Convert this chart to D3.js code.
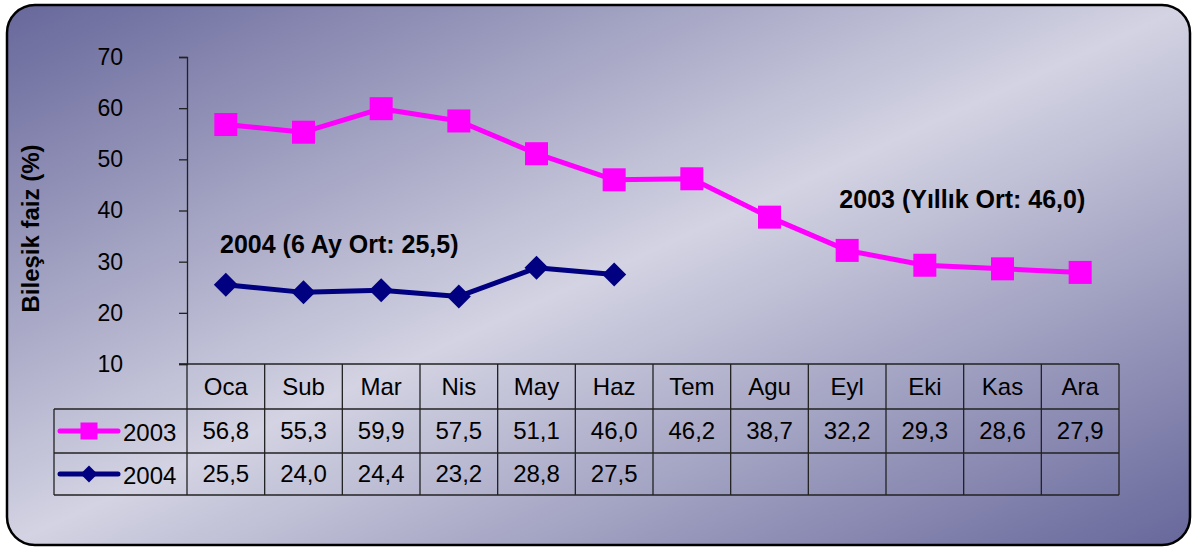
<!DOCTYPE html>
<html>
<head>
<meta charset="utf-8">
<script src="https://cdn.jsdelivr.net/npm/d3@7"></script>
<style>
  body { margin: 0; background: #fff; }
  text { font-family: "Liberation Sans", Arial, sans-serif; }
</style>
</head>
<body>
<svg id="canvas"></svg>
<script>
const months = ["Oca", "Sub", "Mar", "Nis", "May", "Haz", "Tem", "Agu", "Eyl", "Eki", "Kas", "Ara"];
const values2003 = [56.8, 55.3, 59.9, 57.5, 51.1, 46.0, 46.2, 38.7, 32.2, 29.3, 28.6, 27.9];
const values2004 = [25.5, 24.0, 24.4, 23.2, 28.8, 27.5];
const yTicks = [10, 20, 30, 40, 50, 60, 70];
const seriesNames = ["2003", "2004"];
const yLabel = "Bileşik faiz (%)";
const note2003 = "2003 (Yıllık Ort: 46,0)";
const note2004 = "2004 (6 Ay Ort: 25,5)";

const trFormat = d3.formatLocale({
  decimal: ",",
  thousands: ".",
  grouping: [3],
  currency: ["", ""],
}).format(".1f");

function getChartConfig() {
  let canvasWidth = 1192,
    canvasHeight = 548;
  let plot = { left: 187, right: 1119, top: 57, bottom: 364 };
  let rowH = [45, 44, 42]; // header, 2003, 2004
  let legendLeft = 54;

  let svg = d3.select("#canvas");
  svg.attr("width", canvasWidth);
  svg.attr("height", canvasHeight);

  return { canvasWidth, canvasHeight, plot, rowH, legendLeft, svg };
}

function getChartScales(config) {
  let { plot } = config;
  let xScale = d3.scaleBand().domain(months).range([plot.left, plot.right]);
  let yScale = d3.scaleLinear().domain([10, 70]).range([plot.bottom, plot.top]);
  let cScale = d3.scaleOrdinal().domain(seriesNames).range(["#ff00ff", "#000080"]);
  return { xScale, yScale, cScale };
}

function drawBackground(config) {
  let { svg, canvasWidth, canvasHeight } = config;
  let grad = svg
    .append("defs")
    .append("linearGradient")
    .attr("id", "bg")
    .attr("x1", 0)
    .attr("y1", 0)
    .attr("x2", 1)
    .attr("y2", 1);
  grad.append("stop").attr("offset", "0%").attr("stop-color", "#67679b");
  grad.append("stop").attr("offset", "50%").attr("stop-color", "#d3d3e3");
  grad.append("stop").attr("offset", "100%").attr("stop-color", "#67679b");

  svg
    .append("rect")
    .attr("x", 7)
    .attr("y", 5)
    .attr("width", canvasWidth - 9)
    .attr("height", canvasHeight - 8)
    .attr("rx", 28)
    .attr("fill", "url(#bg)")
    .attr("stroke", "#000")
    .attr("stroke-width", 2.5);
}

function drawAxes(scales, config) {
  let { yScale } = scales;
  let { svg, plot } = config;

  let axisY = d3.axisLeft(yScale).tickValues(yTicks).tickSize(8).tickPadding(56).tickFormat(d3.format("d"));

  let g = svg.append("g").attr("transform", `translate(${plot.left},0)`).call(axisY);
  g.select(".domain").attr("stroke", "#222").attr("stroke-width", 1.3);
  g.selectAll(".tick line").attr("stroke", "#222").attr("stroke-width", 1.3);
  g.selectAll(".tick text")
    .attr("fill", "#000")
    .style("font-size", "23px")
    .style("font-family", '"Liberation Sans", Arial, sans-serif');

  svg
    .append("text")
    .style("text-anchor", "middle")
    .style("font-size", "24px")
    .style("font-weight", "bold")
    .attr("transform", `translate(39,${(yScale(10) + yScale(70)) / 2 + 18}) rotate(-90)`)
    .text(yLabel);
}

function drawMarker(sel, name, size) {
  if (name === "2003") {
    sel
      .append("rect")
      .attr("x", -size / 2)
      .attr("y", -size / 2)
      .attr("width", size)
      .attr("height", size);
  } else {
    let h = size / 2;
    sel.append("path").attr("d", `M0,${-h}L${h},0L0,${h}L${-h},0Z`);
  }
}

function drawChart(scales, config) {
  let { svg } = config;
  let { xScale, yScale, cScale } = scales;
  let cx = (m) => xScale(m) + xScale.bandwidth() / 2;

  let series = [
    { name: "2003", values: values2003.map((v, i) => ({ m: months[i], v })) },
    { name: "2004", values: values2004.map((v, i) => ({ m: months[i], v })) },
  ];

  const lineGen = d3
    .line()
    .x((d) => cx(d.m))
    .y((d) => yScale(d.v));

  series.forEach((s) => {
    svg
      .append("path")
      .datum(s.values)
      .attr("fill", "none")
      .attr("stroke", cScale(s.name))
      .attr("stroke-width", 5)
      .attr("stroke-linejoin", "round")
      .attr("d", lineGen);

    svg
      .selectAll(null)
      .data(s.values)
      .enter()
      .append("g")
      .attr("transform", (d) => `translate(${cx(d.m)},${yScale(d.v)})`)
      .attr("fill", cScale(s.name))
      .each(function () {
        drawMarker(d3.select(this), s.name, s.name === "2003" ? 23 : 24);
      });
  });

  svg
    .append("text")
    .attr("x", xScale("Eyl") + 31)
    .attr("y", yScale(40.5))
    .style("font-size", "25px")
    .style("font-weight", "bold")
    .text(note2003);

  svg
    .append("text")
    .attr("x", xScale("Oca") + 33)
    .attr("y", yScale(31.7))
    .style("font-size", "25px")
    .style("font-weight", "bold")
    .text(note2004);
}

function drawTable(scales, config) {
  let { svg, plot, rowH, legendLeft } = config;
  let { xScale, cScale } = scales;
  let bw = xScale.bandwidth();
  let y0 = plot.bottom;
  let y1 = y0 + rowH[0];
  let y2 = y1 + rowH[1];
  let y3 = y2 + rowH[2];

  let g = svg.append("g").attr("stroke", "#222").attr("stroke-width", 1.3).attr("fill", "none");

  // horizontal lines
  g.append("line").attr("x1", plot.left - 8).attr("x2", plot.right).attr("y1", y0).attr("y2", y0);
  [y1, y2, y3].forEach((y) => {
    g.append("line").attr("x1", legendLeft).attr("x2", plot.right).attr("y1", y).attr("y2", y);
  });
  // vertical lines
  g.append("line").attr("x1", legendLeft).attr("x2", legendLeft).attr("y1", y1).attr("y2", y3);
  months.forEach((m) => {
    g.append("line").attr("x1", xScale(m)).attr("x2", xScale(m)).attr("y1", y0).attr("y2", y3);
  });
  g.append("line").attr("x1", plot.right).attr("x2", plot.right).attr("y1", y0).attr("y2", y3);

  let cellText = (x, y, t, anchor) =>
    svg
      .append("text")
      .attr("x", x)
      .attr("y", y)
      .attr("dy", "0.35em")
      .style("text-anchor", anchor || "middle")
      .style("font-size", "24px")
      .text(t);

  months.forEach((m, i) => {
    let x = xScale(m) + bw / 2;
    cellText(x, (y0 + y1) / 2, m);
    cellText(x, (y1 + y2) / 2, trFormat(values2003[i]));
    if (i < values2004.length) cellText(x, (y2 + y3) / 2, trFormat(values2004[i]));
  });

  // legend keys
  [
    { name: "2003", yc: (y1 + y2) / 2 },
    { name: "2004", yc: (y2 + y3) / 2 },
  ].forEach((k) => {
    svg
      .append("line")
      .attr("x1", legendLeft + 6)
      .attr("x2", legendLeft + 64)
      .attr("y1", k.yc)
      .attr("y2", k.yc)
      .attr("stroke", cScale(k.name))
      .attr("stroke-width", 5)
      .attr("stroke-linecap", "round");
    let mk = svg
      .append("g")
      .attr("transform", `translate(${legendLeft + 35},${k.yc})`)
      .attr("fill", cScale(k.name));
    drawMarker(mk, k.name, 17);
    cellText(legendLeft + 69, k.yc + 2, k.name, "start");
  });
}

function showData() {
  let config = getChartConfig();
  let scales = getChartScales(config);
  drawBackground(config);
  drawAxes(scales, config);
  drawChart(scales, config);
  drawTable(scales, config);
}

showData();
</script>
</body>
</html>
